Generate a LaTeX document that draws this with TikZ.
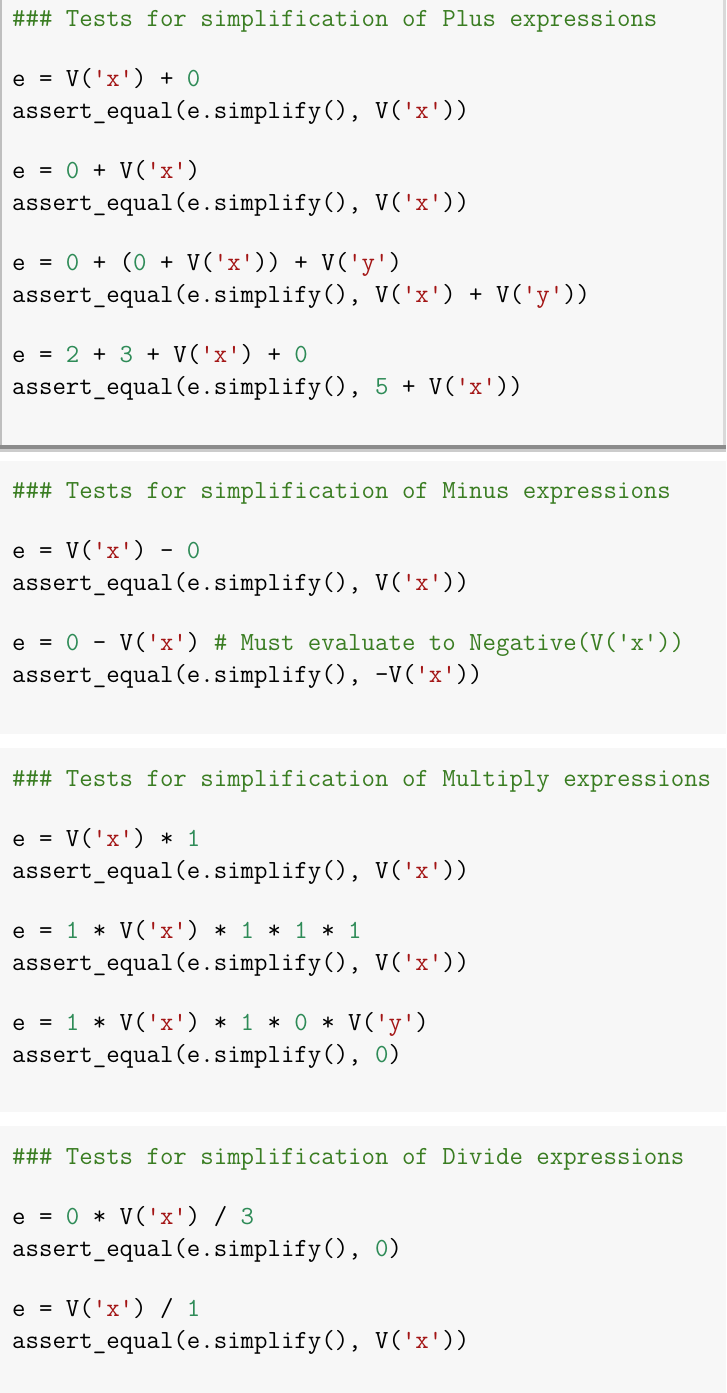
\documentclass[tikz,border=0pt]{standalone}
\usepackage{fontspec}
\setmonofont{Latin Modern Mono}
\definecolor{bgc}{HTML}{F7F7F7}
\definecolor{strc}{HTML}{A31515}
\definecolor{numc}{HTML}{2E8B57}
\definecolor{comc}{HTML}{3A7D22}
\newcommand\kstr[1]{\textcolor{strc}{#1}}
\newcommand\knum[1]{\textcolor{numc}{#1}}
\newcommand\kcom[1]{\textcolor{comc}{#1}}
\newcommand\codeln[3]{\node[code] (#1) at (12,-#2) {#3};}
\begin{document}
\begin{tikzpicture}[x=1pt,y=1pt,
  code/.style={anchor=base west,inner sep=0pt,font=\fontsize{26.1}{28}\ttfamily,text=black},
  cell/.style={fill=bgc,draw=none}]
\useasboundingbox (0,0) rectangle (726,-1393);
\fill[white] (0,0) rectangle (726,-1393);
% cell backgrounds
\fill[black!45] (0,-444) rectangle (726,-449);
\fill[black!20] (0,-449) rectangle (726,-452);
\fill[cell] (0,0) rectangle (726,-445);
\fill[black!25] (0,0) rectangle (2,-445);
\fill[black!15] (723,0) rectangle (726,-445);
\fill[cell] (0,-461) rectangle (726,-734);
\fill[cell] (0,-748) rectangle (726,-1112);
\fill[cell] (0,-1126) rectangle (726,-1393);
% cell 1
\codeln{a1}{26}{\kcom{\#\#\# Tests for simplification of Plus expressions}}
\codeln{a2}{86}{e = V(\kstr{'x'}) + \knum{0}}
\codeln{a3}{118}{assert\_equal(e.simplify(), V(\kstr{'x'}))}
\codeln{a4}{178}{e = \knum{0} + V(\kstr{'x'})}
\codeln{a5}{210}{assert\_equal(e.simplify(), V(\kstr{'x'}))}
\codeln{a6}{270}{e = \knum{0} + (\knum{0} + V(\kstr{'x'})) + V(\kstr{'y'})}
\codeln{a7}{302}{assert\_equal(e.simplify(), V(\kstr{'x'}) + V(\kstr{'y'}))}
\codeln{a8}{362}{e = \knum{2} + \knum{3} + V(\kstr{'x'}) + \knum{0}}
\codeln{a9}{394}{assert\_equal(e.simplify(), \knum{5} + V(\kstr{'x'}))}
% cell 2
\codeln{b1}{498}{\kcom{\#\#\# Tests for simplification of Minus expressions}}
\codeln{b2}{558}{e = V(\kstr{'x'}) - \knum{0}}
\codeln{b3}{590}{assert\_equal(e.simplify(), V(\kstr{'x'}))}
\codeln{b4}{650}{e = \knum{0} - V(\kstr{'x'}) \kcom{\# Must evaluate to Negative(V('x'))}}
\codeln{b5}{682}{assert\_equal(e.simplify(), -V(\kstr{'x'}))}
% cell 3
\codeln{c1}{786}{\kcom{\#\#\# Tests for simplification of Multiply expressions}}
\codeln{c2}{846}{e = V(\kstr{'x'}) * \knum{1}}
\codeln{c3}{878}{assert\_equal(e.simplify(), V(\kstr{'x'}))}
\codeln{c4}{938}{e = \knum{1} * V(\kstr{'x'}) * \knum{1} * \knum{1} * \knum{1}}
\codeln{c5}{970}{assert\_equal(e.simplify(), V(\kstr{'x'}))}
\codeln{c6}{1030}{e = \knum{1} * V(\kstr{'x'}) * \knum{1} * \knum{0} * V(\kstr{'y'})}
\codeln{c7}{1062}{assert\_equal(e.simplify(), \knum{0})}
% cell 4
\codeln{d1}{1164}{\kcom{\#\#\# Tests for simplification of Divide expressions}}
\codeln{d2}{1224}{e = \knum{0} * V(\kstr{'x'}) / \knum{3}}
\codeln{d3}{1256}{assert\_equal(e.simplify(), \knum{0})}
\codeln{d4}{1316}{e = V(\kstr{'x'}) / \knum{1}}
\codeln{d5}{1348}{assert\_equal(e.simplify(), V(\kstr{'x'}))}
\end{tikzpicture}
\end{document}
